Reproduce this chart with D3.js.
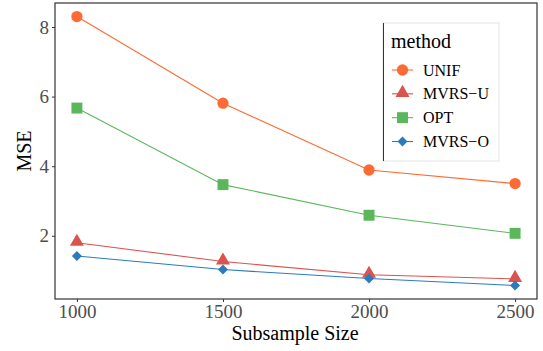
<!DOCTYPE html>
<html>
<head>
<meta charset="utf-8">
<script src="https://cdn.jsdelivr.net/npm/d3@7"></script>
<style>
  html, body { margin: 0; padding: 0; background: #fff; }
  svg text { font-family: "Liberation Serif", "Times New Roman", Times, serif !important; }
</style>
</head>
<body>
<svg id="chart" width="543" height="351"></svg>
<script>
// Subsample sizes on the x axis
const sizes = [1000, 1500, 2000, 2500];
// Mean squared error for each method
const unif  = [8.30, 5.81, 3.89, 3.50];
const mvrsU = [1.80, 1.26, 0.88, 0.76];
const opt   = [5.67, 3.47, 2.59, 2.07];
const mvrsO = [1.42, 1.03, 0.77, 0.57];
const methodNames = ["UNIF", "MVRS\u2212U", "OPT", "MVRS\u2212O"];
const yTicks = [2, 4, 6, 8];

const series = [
  { name: methodNames[0], values: unif,  color: "#fd6a33", shape: "circle" },
  { name: methodNames[1], values: mvrsU, color: "#d9534f", shape: "triangle" },
  { name: methodNames[2], values: opt,   color: "#5bb75b", shape: "square" },
  { name: methodNames[3], values: mvrsO, color: "#2b7bba", shape: "diamond" }
];

const svg = d3.select("#chart");
const panel = { left: 55, right: 537, top: 3, bottom: 299 };

const x = d3.scaleLinear().domain([925, 2575]).range([panel.left, panel.right]);
const y = d3.scaleLinear().domain([0.183, 8.69]).range([panel.bottom, panel.top]);

// axes
const xAxis = d3.axisBottom(x).tickValues(sizes).tickSize(3).tickPadding(3).tickFormat(d3.format("d"));
const yAxis = d3.axisLeft(y).tickValues(yTicks).tickSize(3).tickPadding(3);

const gx = svg.append("g").attr("transform", `translate(0,${panel.bottom})`).call(xAxis);
const gy = svg.append("g").attr("transform", `translate(${panel.left},0)`).call(yAxis);
[gx, gy].forEach(g => {
  g.attr("font-family", null).attr("font-size", null);
  g.select(".domain").remove();
  g.selectAll(".tick line").attr("stroke", "#333").attr("stroke-width", 1);
  g.selectAll(".tick text").attr("fill", "#4d4d4d").style("font-size", "19px");
});

// panel border
svg.append("rect")
  .attr("x", panel.left).attr("y", panel.top)
  .attr("width", panel.right - panel.left).attr("height", panel.bottom - panel.top)
  .attr("fill", "none").attr("stroke", "#333").attr("stroke-width", 1.2);

// axis titles
svg.append("text").attr("x", (panel.left + panel.right) / 2 - 1).attr("y", 340)
  .attr("text-anchor", "middle").style("font-size", "20px").attr("fill", "#000")
  .text("Subsample Size");
svg.append("text").attr("transform", `translate(31,${(panel.top + panel.bottom) / 2}) rotate(-90)`)
  .attr("text-anchor", "middle").style("font-size", "20px").attr("fill", "#000")
  .text("MSE");

// marker shapes
const symbolFor = {
  circle:   d3.symbol().type(d3.symbolCircle).size(100),
  triangle: d3.symbol().type(d3.symbolTriangle).size(85),
  square:   d3.symbol().type(d3.symbolSquare).size(120),
  diamond:  d3.symbol().type(d3.symbolSquare).size(50)
};
function addMarker(parent, s, tx, ty) {
  const g = parent.append("g").attr("transform", `translate(${tx},${ty})`);
  const p = g.append("path").attr("d", symbolFor[s.shape]()).attr("fill", s.color);
  if (s.shape === "diamond") p.attr("transform", "rotate(45)");
  if (s.shape === "triangle") p.attr("transform", "translate(0,-1)");
}

const line = d3.line().x((d, i) => x(sizes[i])).y(d => y(d));

series.forEach(s => {
  svg.append("path").datum(s.values).attr("d", line)
    .attr("fill", "none").attr("stroke", s.color).attr("stroke-width", 1.1);
});
series.forEach(s => {
  s.values.forEach((v, i) => addMarker(svg, s, x(sizes[i]), y(v)));
});

// legend
const lg = svg.append("g");
lg.append("rect").attr("x", 383).attr("y", 23).attr("width", 116).attr("height", 138)
  .attr("fill", "#fff").attr("stroke", "#e4e4e4").attr("stroke-width", 1);
lg.append("line").attr("x1", 383.5).attr("x2", 383.5).attr("y1", 23).attr("y2", 161)
  .attr("stroke", "#333").attr("stroke-width", 1);
lg.append("text").attr("x", 391).attr("y", 48).style("font-size", "20px").attr("fill", "#000")
  .text("method");
const itemY = d3.scalePoint().domain(methodNames).range([70, 141.5]);
series.forEach(s => {
  const cy = itemY(s.name);
  lg.append("line").attr("x1", 392).attr("x2", 413).attr("y1", cy).attr("y2", cy)
    .attr("stroke", s.color).attr("stroke-width", 1.1);
  addMarker(lg, s, 402.5, cy);
  lg.append("text").attr("x", 423).attr("y", cy).attr("dy", "0.35em")
    .style("font-size", "16px").attr("fill", "#000").text(s.name);
});
</script>
</body>
</html>
